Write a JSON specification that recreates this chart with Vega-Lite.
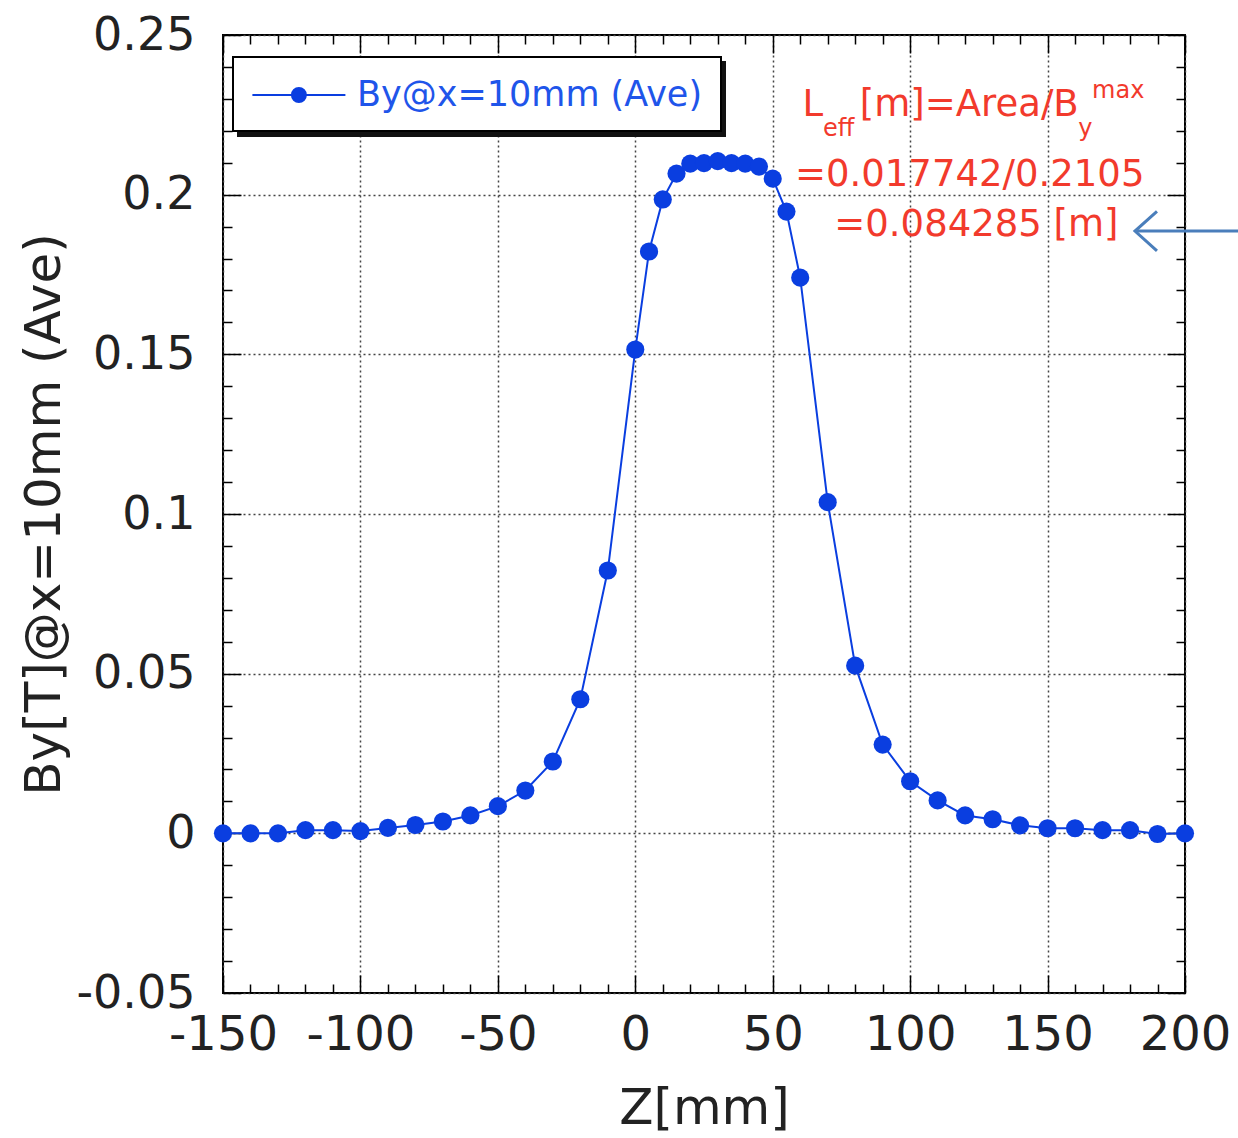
{
  "$schema": "https://vega.github.io/schema/vega-lite/v6.json",
  "width": 962,
  "height": 958,
  "autosize": {"type": "none"},
  "padding": {"left": 223, "top": 35, "right": 53, "bottom": 145},
  "background": "white",
  "data": {
    "values": [
      {"z": -150, "By": 0},
      {"z": -140, "By": 0},
      {"z": -130, "By": 0},
      {"z": -120, "By": 0.001},
      {"z": -110, "By": 0.001},
      {"z": -100, "By": 0.0007},
      {"z": -90, "By": 0.0017},
      {"z": -80, "By": 0.0026},
      {"z": -70, "By": 0.0037},
      {"z": -60, "By": 0.0056},
      {"z": -50, "By": 0.0085},
      {"z": -40, "By": 0.0134},
      {"z": -30, "By": 0.0225},
      {"z": -20, "By": 0.042},
      {"z": -10, "By": 0.0823},
      {"z": 0, "By": 0.1515},
      {"z": 5, "By": 0.1822},
      {"z": 10, "By": 0.1985},
      {"z": 15, "By": 0.2066},
      {"z": 20, "By": 0.2097},
      {"z": 25, "By": 0.2099},
      {"z": 30, "By": 0.2105},
      {"z": 35, "By": 0.2099},
      {"z": 40, "By": 0.2097},
      {"z": 45, "By": 0.2088},
      {"z": 50, "By": 0.205},
      {"z": 55, "By": 0.1947},
      {"z": 60, "By": 0.174},
      {"z": 70, "By": 0.1037},
      {"z": 80, "By": 0.0525},
      {"z": 90, "By": 0.0278},
      {"z": 100, "By": 0.0163},
      {"z": 110, "By": 0.0103},
      {"z": 120, "By": 0.0056},
      {"z": 130, "By": 0.0044},
      {"z": 140, "By": 0.0025},
      {"z": 150, "By": 0.0016},
      {"z": 160, "By": 0.0016},
      {"z": 170, "By": 0.001},
      {"z": 180, "By": 0.001},
      {"z": 190, "By": -0.0002},
      {"z": 200, "By": 0}
    ]
  },
  "resolve": {"axis": {"x": "independent", "y": "independent"}},
  "layer": [
    {
      "mark": {"type": "line", "strokeWidth": 2},
      "encoding": {
        "x": {
          "field": "z", "type": "quantitative",
          "scale": {"domain": [-150, 200], "nice": false, "zero": false},
          "axis": {
            "orient": "bottom", "values": [-150, -100, -50, 0, 50, 100, 150, 200],
            "ticks": false, "grid": true, "gridDash": [2, 3], "gridColor": "#444", "gridWidth": 1.5,
            "labelFontSize": 48, "labelPadding": 18, "labelFlush": false,
            "labelExpr": "replace(format(datum.value, 'd'), '\u2212', '-')",
            "title": "Z[mm]", "titleFontSize": 50, "titlePadding": 24
          }
        },
        "y": {
          "field": "By", "type": "quantitative",
          "scale": {"domain": [-0.05, 0.25], "nice": false, "zero": false},
          "axis": {
            "orient": "left", "values": [-0.05, 0, 0.05, 0.1, 0.15, 0.2, 0.25],
            "ticks": false, "grid": true, "gridDash": [2, 3], "gridColor": "#444", "gridWidth": 1.5,
            "labelFontSize": 46, "labelPadding": 28, "labelFlush": false,
            "labelExpr": "replace(format(datum.value, '~g'), '\u2212', '-')",
            "title": "By[T]@x=10mm (Ave)", "titleFontSize": 50, "titlePadding": 6
          }
        },
        "color": {
          "datum": "By@x=10mm (Ave)", "type": "nominal",
          "scale": {"range": ["#0a3ee0"]},
          "legend": {
            "orient": "none", "legendX": 10, "legendY": 22, "title": null, "zindex": 2,
            "fillColor": "white", "strokeColor": "black", "padding": 18,
            "labelFont": "DejaVu Sans", "labelFontSize": 35, "labelColor": "#1f55ea", "labelLimit": 0,
            "labelOffset": 66,
            "symbolType": "M-1,0H4M1.124,0A0.376,0.376 0 1,0 1.876,0A0.376,0.376 0 1,0 1.124,0Z",
            "symbolSize": 1384, "symbolStrokeWidth": 2,
            "encode": {"symbols": {"update": {"fill": {"value": "#0a3ee0"}, "stroke": {"value": "#0a3ee0"}, "strokeWidth": {"value": 2}, "opacity": {"value": 1}}}}
          }
        }
      }
    },
    {
      "mark": {"type": "point", "filled": true, "size": 330, "opacity": 1},
      "encoding": {
        "x": {"field": "z", "type": "quantitative", "axis": null},
        "y": {"field": "By", "type": "quantitative", "axis": null},
        "color": {"datum": "By@x=10mm (Ave)", "type": "nominal"}
      }
    },
    {
      "data": {"values": [{"label": ""}]},
      "mark": {"type": "text", "fontSize": 1},
      "encoding": {
        "x": {"datum": 0, "type": "quantitative", "axis": null},
        "y": {"datum": 0, "type": "quantitative", "axis": null},
        "text": {"field": "label"},
        "opacity": {
          "datum": "legend shadow", "type": "nominal",
          "scale": {"range": [1]},
          "legend": {
            "orient": "none", "legendX": 15, "legendY": 27, "title": null, "zindex": 1,
            "fillColor": "#111", "strokeColor": "#111", "padding": 18,
            "labelFont": "DejaVu Sans", "labelFontSize": 35, "labelColor": "transparent", "labelLimit": 0,
            "labelOffset": 411, "labelExpr": "''",
            "symbolType": "M-1,0H4M1.124,0A0.376,0.376 0 1,0 1.876,0A0.376,0.376 0 1,0 1.124,0Z",
            "symbolSize": 1384, "symbolStrokeWidth": 2,
            "encode": {"symbols": {"update": {"opacity": {"value": 0}}}}
          }
        }
      }
    },
    {
      "mark": {"type": "point", "opacity": 0},
      "encoding": {
        "x": {"field": "z", "type": "quantitative", "axis": {"orient": "bottom", "values": [-150, -100, -50, 0, 50, 100, 150, 200], "labels": false, "grid": false, "ticks": true, "tickSize": -18, "title": null}},
        "y": {"field": "By", "type": "quantitative", "axis": {"orient": "left", "values": [-0.05, 0, 0.05, 0.1, 0.15, 0.2, 0.25], "labels": false, "grid": false, "ticks": true, "tickSize": -18, "title": null}}
      }
    },
    {
      "mark": {"type": "point", "opacity": 0},
      "encoding": {
        "x": {"field": "z", "type": "quantitative", "axis": {"orient": "bottom", "values": [-140, -130, -120, -110, -90, -80, -70, -60, -40, -30, -20, -10, 10, 20, 30, 40, 60, 70, 80, 90, 110, 120, 130, 140, 160, 170, 180, 190], "labels": false, "grid": false, "ticks": true, "tickSize": -9, "title": null}},
        "y": {"field": "By", "type": "quantitative", "axis": {"orient": "left", "values": [-0.04, -0.03, -0.02, -0.01, 0.01, 0.02, 0.03, 0.04, 0.06, 0.07, 0.08, 0.09, 0.11, 0.12, 0.13, 0.14, 0.16, 0.17, 0.18, 0.19, 0.21, 0.22, 0.23, 0.24], "labels": false, "grid": false, "ticks": true, "tickSize": -9, "title": null}}
      }
    },
    {
      "mark": {"type": "point", "opacity": 0},
      "encoding": {
        "x": {"field": "z", "type": "quantitative", "axis": {"orient": "top", "values": [-150, -100, -50, 0, 50, 100, 150, 200], "labels": false, "grid": false, "ticks": true, "tickSize": -18, "title": null}},
        "y": {"field": "By", "type": "quantitative", "axis": {"orient": "right", "values": [-0.05, 0, 0.05, 0.1, 0.15, 0.2, 0.25], "labels": false, "grid": false, "ticks": true, "tickSize": -18, "title": null}}
      }
    },
    {
      "mark": {"type": "point", "opacity": 0},
      "encoding": {
        "x": {"field": "z", "type": "quantitative", "axis": {"orient": "top", "values": [-140, -130, -120, -110, -90, -80, -70, -60, -40, -30, -20, -10, 10, 20, 30, 40, 60, 70, 80, 90, 110, 120, 130, 140, 160, 170, 180, 190], "labels": false, "grid": false, "ticks": true, "tickSize": -9, "title": null}},
        "y": {"field": "By", "type": "quantitative", "axis": {"orient": "right", "values": [-0.04, -0.03, -0.02, -0.01, 0.01, 0.02, 0.03, 0.04, 0.06, 0.07, 0.08, 0.09, 0.11, 0.12, 0.13, 0.14, 0.16, 0.17, 0.18, 0.19, 0.21, 0.22, 0.23, 0.24], "labels": false, "grid": false, "ticks": true, "tickSize": -9, "title": null}}
      }
    },
    {
      "data": {"values": [{"label": "L"}]},
      "mark": {"type": "text", "align": "left", "baseline": "alphabetic", "font": "DejaVu Sans", "fontSize": 37, "color": "#f23a2c"},
      "encoding": {
        "x": {"datum": 60.8, "type": "quantitative", "axis": null},
        "y": {"datum": 0.2245, "type": "quantitative", "axis": null},
        "text": {"field": "label"}
      }
    },
    {
      "data": {"values": [{"label": "eff"}]},
      "mark": {"type": "text", "align": "left", "baseline": "alphabetic", "font": "DejaVu Sans", "fontSize": 24, "color": "#f23a2c"},
      "encoding": {
        "x": {"datum": 68.3, "type": "quantitative", "axis": null},
        "y": {"datum": 0.2183, "type": "quantitative", "axis": null},
        "text": {"field": "label"}
      }
    },
    {
      "data": {"values": [{"label": "[m]=Area/B"}]},
      "mark": {"type": "text", "align": "left", "baseline": "alphabetic", "font": "DejaVu Sans", "fontSize": 37, "color": "#f23a2c"},
      "encoding": {
        "x": {"datum": 81.7, "type": "quantitative", "axis": null},
        "y": {"datum": 0.2245, "type": "quantitative", "axis": null},
        "text": {"field": "label"}
      }
    },
    {
      "data": {"values": [{"label": "y"}]},
      "mark": {"type": "text", "align": "left", "baseline": "alphabetic", "font": "DejaVu Sans", "fontSize": 24, "color": "#f23a2c"},
      "encoding": {
        "x": {"datum": 161.2, "type": "quantitative", "axis": null},
        "y": {"datum": 0.2183, "type": "quantitative", "axis": null},
        "text": {"field": "label"}
      }
    },
    {
      "data": {"values": [{"label": "max"}]},
      "mark": {"type": "text", "align": "left", "baseline": "alphabetic", "font": "DejaVu Sans", "fontSize": 24, "color": "#f23a2c"},
      "encoding": {
        "x": {"datum": 166.2, "type": "quantitative", "axis": null},
        "y": {"datum": 0.2302, "type": "quantitative", "axis": null},
        "text": {"field": "label"}
      }
    },
    {
      "data": {"values": [{"label": "=0.017742/0.2105"}]},
      "mark": {"type": "text", "align": "left", "baseline": "alphabetic", "font": "DejaVu Sans", "fontSize": 37, "color": "#f23a2c"},
      "encoding": {
        "x": {"datum": 58.1, "type": "quantitative", "axis": null},
        "y": {"datum": 0.2026, "type": "quantitative", "axis": null},
        "text": {"field": "label"}
      }
    },
    {
      "data": {"values": [{"label": "=0.084285 [m]"}]},
      "mark": {"type": "text", "align": "left", "baseline": "alphabetic", "font": "DejaVu Sans", "fontSize": 37, "color": "#f23a2c"},
      "encoding": {
        "x": {"datum": 72.4, "type": "quantitative", "axis": null},
        "y": {"datum": 0.187, "type": "quantitative", "axis": null},
        "text": {"field": "label"}
      }
    },
    {
      "data": {"values": [{"arrow": "pointer"}]},
      "mark": {"type": "rule", "color": "#4a7ebb", "strokeWidth": 3},
      "encoding": {
        "x": {"datum": 182.2, "type": "quantitative", "axis": null},
        "x2": {"datum": 219.5},
        "y": {"datum": 0.1886, "type": "quantitative", "axis": null}
      }
    },
    {
      "data": {"values": [{"arrow": "head"}]},
      "mark": {"type": "point", "shape": "M1,-0.9L0,0L1,0.9", "filled": false, "size": 1936, "strokeWidth": 3, "color": "#4a7ebb", "opacity": 1},
      "encoding": {
        "x": {"datum": 181.8, "type": "quantitative", "axis": null},
        "y": {"datum": 0.1886, "type": "quantitative", "axis": null}
      }
    }
  ],
  "config": {
    "view": {"stroke": "black", "strokeWidth": 2},
    "axis": {
      "domain": false, "labelFont": "DejaVu Sans", "titleFont": "DejaVu Sans",
      "tickColor": "black", "tickWidth": 1.5, "labelColor": "#222", "titleColor": "#222",
      "titleFontWeight": "normal"
    },
    "legend": {"strokeWidth": 2}
  }
}
